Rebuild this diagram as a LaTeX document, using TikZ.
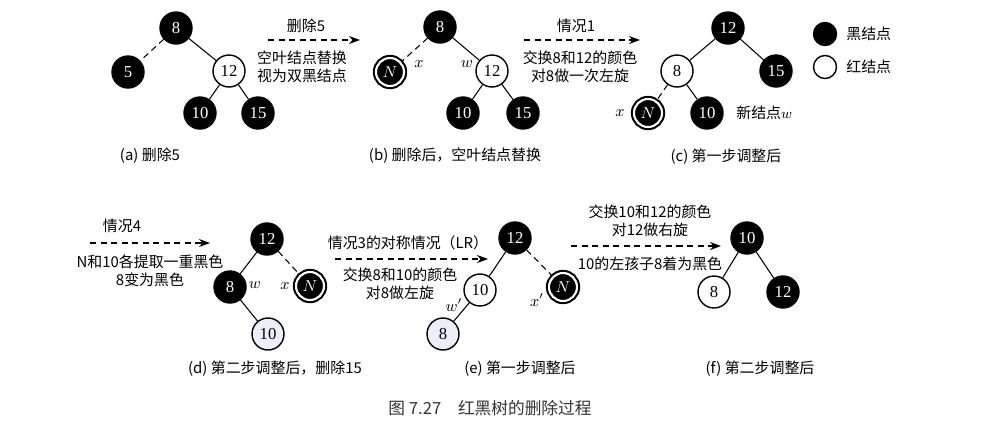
\documentclass[tikz,border=0pt]{standalone}
\usepackage{fontspec}
\setmainfont{Liberation Serif}
\newfontfamily\cjk{Noto Sans CJK SC}
\usetikzlibrary{arrows.meta, positioning}
\definecolor{lav}{RGB}{238,238,250}

\begin{document}
\begin{tikzpicture}[
      x=0.02cm, y=-0.02cm,
      rb/.style={circle, draw, line width=0.8pt, minimum size=0.64cm, inner sep=0pt, font=\fontsize{9.5}{10}\selectfont},
      blk/.style={rb, fill=black, text=white},
      wht/.style={rb, fill=white},
      pale/.style={rb, fill=lav},
      dbl/.style={rb, fill=black, text=white, line width=1.2pt, double=white, double distance=1.2pt, minimum size=0.56cm},
      key/.style={circle, draw, line width=0.8pt, minimum size=0.46cm, inner sep=0pt},
      edge/.style={line width=0.6pt},
      nil/.style={edge, dash pattern=on 3.5pt off 2.5pt},
      move/.style={dash pattern=on 3.5pt off 2.5pt, -{Stealth[length=2.2mm, width=1.6mm]}, line width=0.6pt},
      lbl/.style={font=\cjk\fontsize{8.5}{10}\selectfont, align=center, inner sep=1pt},
      var/.style={font=\fontsize{9}{10}\selectfont, inner sep=1pt},
      capt/.style={font=\cjk\fontsize{8.5}{10}\selectfont, inner sep=1pt}
    ]
      \useasboundingbox (0,0) rectangle (987,427);

      % (a)
      \node[blk] (a8) at (176,28) {8};
      \node[blk] (a5) at (128,72) {5};
      \node[wht] (a12) at (229,71) {12};
      \node[blk] (a10) at (200,113) {10};
      \node[blk] (a15) at (258,113) {15};
      \draw[nil] (a8) -- (a5);
      \draw[edge] (a8) -- (a12);
      \draw[edge] (a12) -- (a10);
      \draw[edge] (a12) -- (a15);
      \node[capt] (capa) at (150,156) {(a) 删除5};

      % step a -> b
      \coordinate (s1a) at (268,40);
      \coordinate (s1b) at (360,40);
      \draw[move] (s1a) -- (s1b);
      \node[lbl] (t1) at (306,26) {删除5};
      \node[lbl] (t1b) at (302,67) {空叶结点替换\\视为双黑结点};

      % (b)
      \node[blk] (b8) at (440,27) {8};
      \node[dbl] (bN) at (390,72) {$N$};
      \node[wht] (b12) at (492,71) {12};
      \node[blk] (b10) at (463,113) {10};
      \node[blk] (b15) at (523,113) {15};
      \draw[nil] (b8) -- (bN);
      \draw[edge] (b8) -- (b12);
      \draw[edge] (b12) -- (b10);
      \draw[edge] (b12) -- (b15);
      \node[var] (bx) at (419,64) {$x$};
      \node[var] (bw) at (467,64) {$w$};
      \node[capt] (capb) at (455,156) {(b) 删除后，空叶结点替换};

      % step b -> c
      \coordinate (s2a) at (524,40);
      \coordinate (s2b) at (640,40);
      \draw[move] (s2a) -- (s2b);
      \node[lbl] (t2) at (576,26) {情况1};
      \node[lbl] (t2b) at (580,67) {交换8和12的颜色\\对8做一次左旋};

      % (c)
      \node[blk] (c12) at (728,28) {12};
      \node[wht] (c8) at (677,71) {8};
      \node[blk] (c15) at (776,71) {15};
      \node[dbl] (cN) at (648,113) {$N$};
      \node[blk] (c10) at (707,113) {10};
      \draw[edge] (c12) -- (c8);
      \draw[edge] (c12) -- (c15);
      \draw[nil] (c8) -- (cN);
      \draw[edge] (c8) -- (c10);
      \node[var] (cx) at (620,113) {$x$};
      \node[lbl, right=6pt of c10] (cw) {新结点$w$};
      \node[capt] (capc) at (726,157) {(c) 第一步调整后};

      % legend
      \node[key, fill=black] (kb) at (825,34) {};
      \node[key, fill=white] (kr) at (825,67) {};
      \node[lbl, right=4pt of kb] (kbt) {黑结点};
      \node[lbl, right=4pt of kr] (krt) {红结点};

      % step c -> d
      \coordinate (s3a) at (90,243);
      \coordinate (s3b) at (210,243);
      \draw[move] (s3a) -- (s3b);
      \node[lbl] (t3) at (122,226) {情况4};
      \node[lbl] (t3b) at (150,271) {N和10各提取一重黑色\\8变为黑色};

      % (d)
      \node[blk] (d12) at (267,239) {12};
      \node[blk] (d8) at (230,287) {8};
      \node[dbl] (dN) at (310,286) {$N$};
      \node[pale] (d10) at (268,334) {10};
      \draw[edge] (d12) -- (d8);
      \draw[nil] (d12) -- (dN);
      \draw[edge] (d8) -- (d10);
      \node[var] (dw) at (255,285) {$w$};
      \node[var] (dx) at (285,286) {$x$};
      \node[capt] (capd) at (275,369) {(d) 第二步调整后，删除15};

      % step d -> e
      \coordinate (s4a) at (335,259);
      \coordinate (s4b) at (488,259);
      \draw[move] (s4a) -- (s4b);
      \node[lbl] (t4) at (408,243) {情况3的对称情况（LR）};
      \node[lbl] (t4b) at (400,284) {交换8和10的颜色\\对8做左旋};

      % (e)
      \node[blk] (e12) at (515,238) {12};
      \node[wht] (e10) at (480,290) {10};
      \node[dbl] (eN) at (563,287) {$N$};
      \node[pale] (e8) at (443,334) {8};
      \draw[edge] (e12) -- (e10);
      \draw[nil] (e12) -- (eN);
      \draw[edge] (e10) -- (e8);
      \node[var] (ew) at (454,305) {$w'$};
      \node[var] (ex) at (537,300) {$x'$};
      \node[capt] (cape) at (520,369) {(e) 第一步调整后};

      % step e -> f
      \coordinate (s5a) at (571,246);
      \coordinate (s5b) at (721,246);
      \draw[move] (s5a) -- (s5b);
      \node[lbl] (t5) at (650,221) {交换10和12的颜色\\对12做右旋};
      \node[lbl] (t5b) at (650,264) {10的左孩子8着为黑色};

      % (f)
      \node[blk] (f10) at (747,238) {10};
      \node[wht] (f8) at (714,292) {8};
      \node[blk] (f12) at (783,292) {12};
      \draw[edge] (f10) -- (f8);
      \draw[edge] (f10) -- (f12);
      \node[capt] (capf) at (760,369) {(f) 第二步调整后};

      \node[capt, font=\cjk\fontsize{9.5}{11}\selectfont, text=black!80] (fig) at (490,408) {图 7.27\quad 红黑树的删除过程};
    \end{tikzpicture}
\end{document}
